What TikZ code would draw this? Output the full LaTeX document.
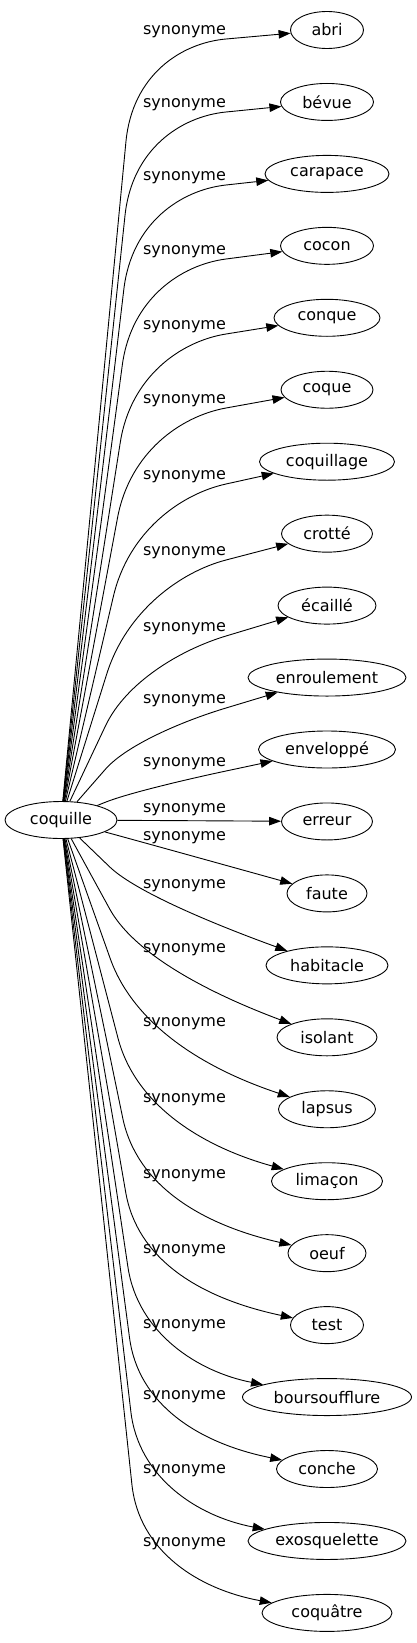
\documentclass[tikz,border=0pt]{standalone}
\usepackage{fontspec}
\setmainfont{DejaVu Sans}
\usetikzlibrary{arrows.meta,shapes.geometric}
\begin{document}
\begin{tikzpicture}[x=1pt,y=1pt,
  every node/.style={font=\fontsize{16}{19}\selectfont},
  word/.style={draw, ellipse, line width=0.9pt, inner sep=0pt, minimum height=37pt},
  lab/.style={inner sep=0pt},
  link/.style={line width=0.9pt, -{Triangle[length=12pt,width=8.5pt]}}]
\useasboundingbox (0,0) rectangle (417,-1643);
\node[word, minimum width=112pt] (c) at (61,-820) {coquille};
% upper targets
\foreach \i/\txt/\w/\ly in {0/abri/73/32, 1/bévue/93/105, 2/carapace/124/178, 3/cocon/93/252,
  4/conque/106/327, 5/coque/92/401, 6/coquillage/135/477, 7/crotté/91/553,
  8/écaillé/98/629, 9/enroulement/158/701, 10/enveloppé/137/764} {
  \pgfmathsetmacro\qty{30+71.95*\i}
  \node[word, minimum width=\w pt] (n\i) at (327,-\qty) {\txt};
  \node[lab] (l\i) at (184.5,-\ly) {synonyme};
  \pgfmathsetmacro\qmy{\ly+7}
  \pgfmathsetmacro\qky{\qmy+(\qmy-\qty)*0.9}
  \pgfmathsetmacro\qdx{(61-135)/100}
  \pgfmathsetmacro\qdy{(820-\qky)/100}
  \pgfmathsetmacro\qlen{sqrt(\qdx*\qdx+\qdy*\qdy)}
  \pgfmathsetmacro\qrr{min(95,40*\qlen)}
  \pgfmathsetmacro\qux{\qdx/\qlen}
  \pgfmathsetmacro\quy{\qdy/\qlen}
  \coordinate (p\i) at ({135+\qrr*\qux},{-(\qky+\qrr*\quy)});
  \coordinate (a\i) at ({135+0.3*\qrr*\qux},{-(\qky+0.3*\qrr*\quy)});
  \coordinate (b\i) at (180.5,{-(\qky+\qmy)/2});
  \coordinate (m\i) at (226,-\qmy);
  \draw[link] (c) -- (p\i) .. controls (a\i) and (b\i) .. (m\i) -- (n\i);
}
% middle target
\node[word, minimum width=91pt] (n11) at (327,-821.45) {erreur};
\node[lab] (l11) at (184.5,-810) {synonyme};
\draw[link] (c) -- (n11);
% lower targets
\foreach \i/\txt/\w/\ly/\o in {12/faute/80/838/4, 13/habitacle/122/886/12, 14/isolant/100/950/18,
  15/lapsus/97/1024/24, 16/limaçon/111/1100/30, 17/oeuf/78/1176/35, 18/test/73/1251/35,
  19/boursoufflure/169/1326/35, 20/conche/101/1397/35, 21/exosquelette/158/1471/35,
  22/coquâtre/130/1544/35} {
  \pgfmathsetmacro\qty{30+71.95*\i}
  \node[word, minimum width=\w pt] (n\i) at (327,-\qty) {\txt};
  \node[lab] (l\i) at (184.5,-\ly) {synonyme};
  \pgfmathsetmacro\qky{\ly+\o}
  \pgfmathsetmacro\qdx{(61-142)/100}
  \pgfmathsetmacro\qdy{(820-\qky)/100}
  \pgfmathsetmacro\qlen{sqrt(\qdx*\qdx+\qdy*\qdy)}
  \pgfmathsetmacro\qrr{min(95,40*\qlen)}
  \pgfmathsetmacro\qux{\qdx/\qlen}
  \pgfmathsetmacro\quy{\qdy/\qlen}
  \coordinate (p\i) at ({142+\qrr*\qux},{-(\qky+\qrr*\quy)});
  \coordinate (a\i) at ({142+0.3*\qrr*\qux},{-(\qky+0.3*\qrr*\quy)});
  \coordinate (b\i) at ({142+0.3*(327-142)},{-(\qky+0.3*(\qty-\qky))});
  \draw[link] (c) -- (p\i) .. controls (a\i) and (b\i) .. (n\i);
}
\end{tikzpicture}
\end{document}
